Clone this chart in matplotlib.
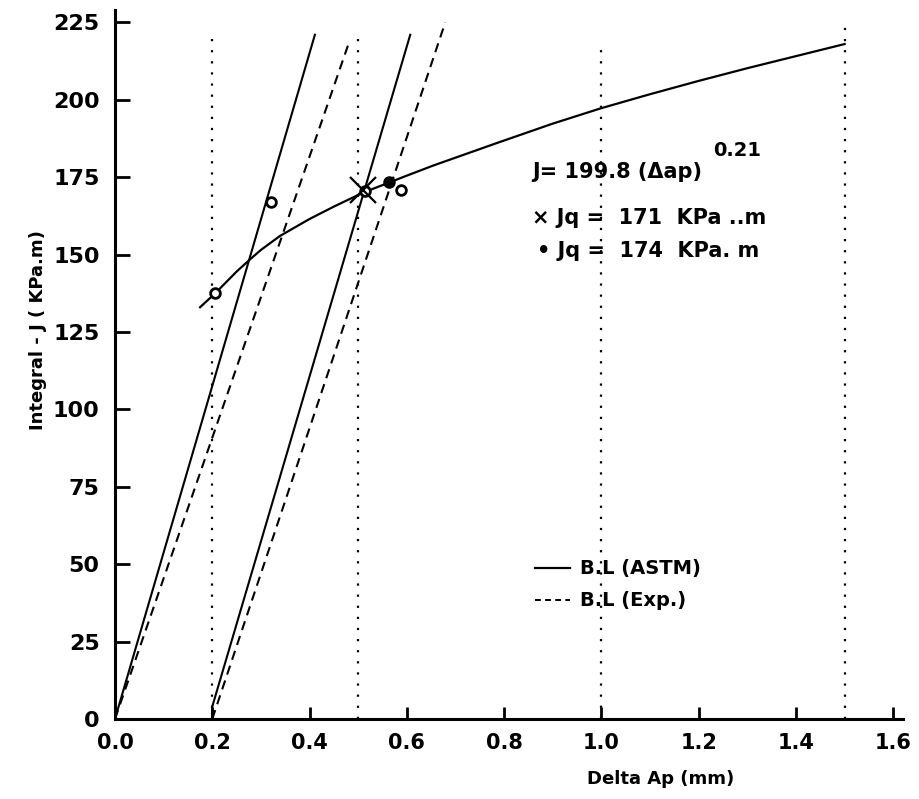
import matplotlib.pyplot as plt

plt.rcParams['font.family'] = ['DejaVu Sans']
plt.rcParams['font.weight'] = 'bold'

# J-R curve, J = 199.8 (delta ap)^0.21
curve_da = [0.175, 0.206, 0.25, 0.278, 0.30, 0.339, 0.40, 0.45, 0.51, 0.60,
            0.655, 0.70, 0.79, 0.90, 1.00, 1.10, 1.20, 1.30, 1.40, 1.50]
curve_j = [133, 137.5, 144.5, 148.5, 151.5, 156, 161.5, 165.5, 170, 175.5,
           178.8, 181.3, 186.3, 192.3, 197.3, 201.8, 206.1, 210.2, 214.1, 218]

# blunting lines (ASTM solid, experimental dashed)
astm_da = [[0.0, 0.411], [0.20, 0.20, 0.607]]
astm_j = [[0, 221], [0, 4, 221]]
exp_da = [[0.0, 0.48], [0.20, 0.679]]
exp_j = [[0, 218], [0, 225]]

# exclusion lines (dotted)
excl_da = [0.2, 0.5, 1.0, 1.5]
excl_top = [222, 221, 218, 224]

# test points
open_da = [0.206, 0.320, 0.514, 0.589]
open_j = [137.5, 167, 170.5, 171]
jq_astm = (0.51, 171)
jq_exp = (0.564, 173.4)

xticks = [0.0, 0.2, 0.4, 0.6, 0.8, 1.0, 1.2, 1.4, 1.6]
yticks = [0, 25, 50, 75, 100, 125, 150, 175, 200, 225]

fig = plt.figure(figsize=(9.19, 7.99), dpi=100)
ax = fig.add_axes([0.1251, 0.1001, 0.8575, 0.8874])

for x, top in zip(excl_da, excl_top):
    ax.plot([x, x], [0, top], color='black', lw=1.6, ls=(0, (1, 4)))

for xs, ys in zip(astm_da, astm_j):
    ax.plot(xs, ys, color='black', lw=1.5)
for xs, ys in zip(exp_da, exp_j):
    ax.plot(xs, ys, color='black', lw=1.5, ls=(0, (4.5, 3)))

ax.plot(curve_da, curve_j, color='black', lw=1.6)

ax.plot(open_da, open_j, 'o', ms=7, mfc='white', mec='black', mew=2)
ax.plot(*jq_exp, 'o', ms=8, color='black')
ax.plot(*jq_astm, 'x', ms=19, mec='black', mew=1.6)

ax.set_xlim(0, 1.62)
ax.set_ylim(0, 229)
ax.spines['top'].set_visible(False)
ax.spines['right'].set_visible(False)
ax.spines['left'].set_linewidth(2.2)
ax.spines['bottom'].set_linewidth(2.2)

ax.set_xticks(xticks)
ax.set_xticklabels([f'{v:.1f}' for v in xticks])
ax.set_yticks(yticks)
ax.set_yticklabels([str(v) for v in yticks])
ax.tick_params(axis='x', direction='in', length=9, width=2, pad=10, labelsize=15)
ax.tick_params(axis='y', direction='in', length=11, width=2, pad=11, labelsize=16)

fig.text(661 / 919, 1 - 779 / 799, 'Delta Ap (mm)', ha='center', va='center', fontsize=13)
fig.text(38 / 919, 1 - 330 / 799, 'Integral - J ( KPa.m)', ha='center', va='center',
         rotation=90, fontsize=13)

ax.text(0.858, 174.6, 'J= 199.8 (\u0394ap)', fontsize=15, va='baseline')
ax.text(1.230, 181.7, '0.21', fontsize=14, va='baseline')
ax.text(0.858, 159.8, '\u00d7 Jq =  171  KPa ..m', fontsize=15, va='baseline')
ax.text(0.868, 149.1, '\u2022 Jq =  174  KPa. m', fontsize=15, va='baseline')

ax.plot([0.864, 0.936], [48.7, 48.7], color='black', lw=1.6)
ax.plot([0.864, 0.936], [38.4, 38.4], color='black', lw=1.4, ls=(0, (3, 2.2)))
ax.text(0.956, 48.7, 'B.L (ASTM)', fontsize=14, va='center')
ax.text(0.956, 38.4, 'B.L (Exp.)', fontsize=14, va='center')

fig.savefig('out.png', dpi=100)
